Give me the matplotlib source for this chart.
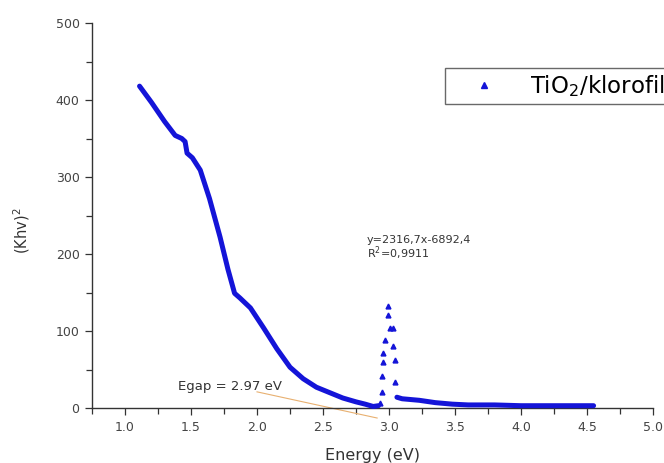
import matplotlib.pyplot as plt
from matplotlib.ticker import MultipleLocator

# Tauc plot of the TiO2/klorofil film
# main absorption curve (read point by point)
energy = [1.11, 1.20, 1.30, 1.38, 1.43, 1.455, 1.47, 1.51, 1.57, 1.64, 1.72, 1.78,
          1.83, 1.87, 1.95, 2.05, 2.15, 2.25, 2.35, 2.45, 2.55, 2.65, 2.75, 2.82,
          2.88, 2.92]
khv2 = [418, 397, 372, 354, 350, 346, 331, 325, 309, 272, 222, 180,
        149, 143, 130, 104, 77, 53, 38, 27, 20, 13, 8, 5,
        2, 3]

# isolated points around 3 eV
spike_e = [2.935, 2.945, 2.945, 2.957, 2.957, 2.97, 2.995, 2.995, 3.008,
           3.033, 3.033, 3.045, 3.045]
spike_k = [6, 21, 41, 60, 71, 88, 132, 121, 104, 104, 80, 62, 34]

# tail of the curve after the spike
tail_e = [3.06, 3.10, 3.23, 3.35, 3.48, 3.60, 3.80, 4.00, 4.30, 4.55]
tail_k = [14, 12, 10, 7, 5, 4, 4, 3, 3, 3]

# pointer line for the band gap label
egap_line_e = [2.0, 2.91]
egap_line_k = [21, -13]

blue = "#1414d8"
txt = "#333333"
plt.rcParams["font.family"] = ["DejaVu Sans"]

fig = plt.figure(figsize=(6.64, 4.63), dpi=100)
ax = fig.add_axes([0.1386, 0.0855, 0.8448, 0.8648])

ax.plot(energy, khv2, color=blue, lw=3.6, solid_capstyle="round",
        solid_joinstyle="round", zorder=3)
ax.plot(tail_e, tail_k, color=blue, lw=3.6, solid_capstyle="round", zorder=3)
ax.plot(spike_e, spike_k, ls="none", marker="^", ms=3.5, color=blue, zorder=3)
ax.plot(egap_line_e, egap_line_k, color="#e8b070", lw=0.8, zorder=2)

ax.set_xlim(0.75, 5.0)
ax.set_ylim(-20, 500)

# Origin style axes: only left and bottom, crossing at zero
ax.spines["top"].set_visible(False)
ax.spines["right"].set_visible(False)
ax.spines["bottom"].set_position(("data", 0))
ax.spines["left"].set_bounds(0, 500)
for s in ("left", "bottom"):
    ax.spines[s].set_linewidth(1.0)
    ax.spines[s].set_color(txt)

ax.set_xticks([1.0, 1.5, 2.0, 2.5, 3.0, 3.5, 4.0, 4.5, 5.0])
ax.xaxis.set_minor_locator(MultipleLocator(0.25))
ax.yaxis.set_major_locator(MultipleLocator(100))
ax.yaxis.set_minor_locator(MultipleLocator(50))
ax.tick_params(which="both", direction="out", color=txt, width=0.9)
ax.tick_params(which="major", length=5, pad=4, labelsize=9, labelcolor="#444444")
ax.tick_params(which="minor", length=4)

ax.set_xlabel("Energy (eV)", fontsize=11.5, color=txt)
ax.xaxis.set_label_coords(0.5, -0.062)
ax.set_ylabel("(Khv)$^2$", fontsize=10.5, color=txt)
ax.yaxis.set_label_coords(-0.107, 0.48)

ax.text(1.40, 28, "Egap = 2.97 eV", fontsize=9.5, color=txt, va="center")
ax.text(2.83, 218, "y=2316,7x-6892,4", fontsize=8, color=txt, va="center")
ax.text(2.83, 201, "R$^2$=0,9911", fontsize=8, color=txt, va="center")

# legend box runs past the right edge of the figure
ax.plot([], [], ls="none", marker="^", ms=4, color=blue, label="TiO$_2$/klorofil")
fig.legend(loc="upper left", bbox_to_anchor=(445 / 664, 1 - 68 / 463),
           fontsize=16.5, frameon=True, fancybox=False, edgecolor="#444444",
           handlelength=3.0, handletextpad=0.5, borderpad=0.22,
           borderaxespad=0)

fig.savefig("out.png", dpi=100)
